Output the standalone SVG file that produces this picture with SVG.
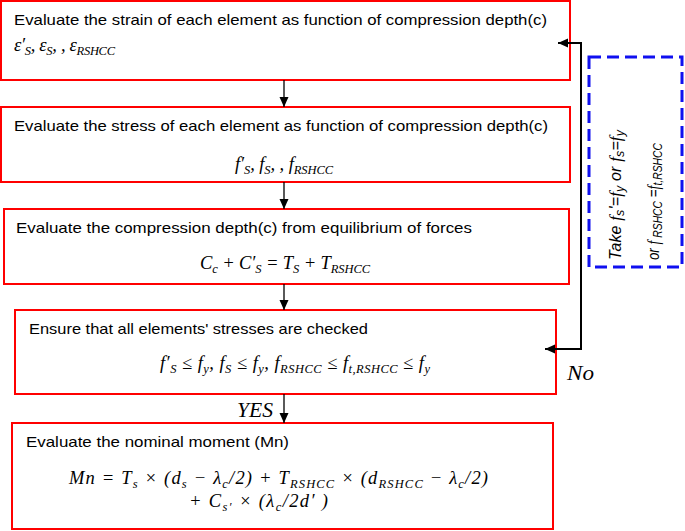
<svg xmlns="http://www.w3.org/2000/svg" width="685" height="531" viewBox="0 0 685 531">
<style>
.box{fill:#fff;stroke:#ff0000;stroke-width:2}
.t{font-family:"Liberation Sans",Arial,sans-serif;font-size:15px;fill:#000}
.m{font-family:"Liberation Serif","Times New Roman",serif;font-style:italic;font-size:18.5px;fill:#000}
.s{font-size:12.5px}
.lbl{font-family:"Liberation Serif","Times New Roman",serif;font-style:italic;font-size:20px;fill:#000}
.con{fill:none;stroke:#000;stroke-width:1.3}
.fb{fill:none;stroke:#000;stroke-width:2}
.note{fill:none;stroke:#1010f0;stroke-width:3;stroke-dasharray:12 6}
.it{font-family:"Liberation Sans",Arial,sans-serif;font-style:italic;font-size:16px;fill:#000}
.itm{font-family:"Liberation Serif","Times New Roman",serif;font-style:italic;font-size:17px}
</style>
<defs>
<marker id="ah" markerUnits="userSpaceOnUse" markerWidth="10" markerHeight="10" refX="10" refY="5" orient="auto-start-reverse">
<path d="M0,0.5 L10,5 L0,9.5 z" fill="#000"/>
</marker>
</defs>

<g id="node1">
<rect class="box" x="1" y="1" width="569" height="79"/>
<text class="t" x="14" y="25" textLength="533" lengthAdjust="spacingAndGlyphs">Evaluate the strain of each element as function of compression depth(c)</text>
<text class="m" x="14" y="51" textLength="101" lengthAdjust="spacing">ε′<tspan class="s" dy="4">S</tspan><tspan dy="-4">, ε</tspan><tspan class="s" dy="4">S</tspan><tspan dy="-4">, , ε</tspan><tspan class="s" dy="4">RSHCC</tspan></text>
</g>

<g id="node2">
<rect class="box" x="1" y="107" width="569" height="75"/>
<text class="t" x="14" y="131" textLength="534" lengthAdjust="spacingAndGlyphs">Evaluate the stress of each element as function of compression depth(c)</text>
<text class="m" x="235" y="170" textLength="98" lengthAdjust="spacing">f′<tspan class="s" dy="4">S</tspan><tspan dy="-4">, f</tspan><tspan class="s" dy="4">S</tspan><tspan dy="-4">, , f</tspan><tspan class="s" dy="4">RSHCC</tspan></text>
</g>

<g id="node3">
<rect class="box" x="4" y="209" width="565" height="75"/>
<text class="t" x="16" y="233" textLength="456" lengthAdjust="spacingAndGlyphs">Evaluate the compression depth(c) from equilibrium of forces</text>
<text class="m" x="200" y="269" textLength="170" lengthAdjust="spacing">C<tspan class="s" dy="4">c</tspan><tspan dy="-4"> + C′</tspan><tspan class="s" dy="4">S</tspan><tspan dy="-4"> = T</tspan><tspan class="s" dy="4">S</tspan><tspan dy="-4"> + T</tspan><tspan class="s" dy="4">RSHCC</tspan></text>
</g>

<g id="node4">
<rect class="box" x="15" y="310" width="541" height="84"/>
<text class="t" x="29" y="334" textLength="339" lengthAdjust="spacingAndGlyphs">Ensure that all elements' stresses are checked</text>
<text class="m" x="160" y="369" textLength="270" lengthAdjust="spacing">f′<tspan class="s" dy="4">S</tspan><tspan dy="-4"> ≤ f</tspan><tspan class="s" dy="4">y</tspan><tspan dy="-4">, f</tspan><tspan class="s" dy="4">S</tspan><tspan dy="-4"> ≤ f</tspan><tspan class="s" dy="4">y</tspan><tspan dy="-4">, f</tspan><tspan class="s" dy="4">RSHCC</tspan><tspan dy="-4"> ≤ f</tspan><tspan class="s" dy="4">t,RSHCC</tspan><tspan dy="-4"> ≤ f</tspan><tspan class="s" dy="4">y</tspan></text>
</g>

<g id="node5">
<rect class="box" x="12" y="423" width="541" height="106"/>
<text class="t" x="26" y="447" textLength="263" lengthAdjust="spacingAndGlyphs">Evaluate the nominal moment (Mn)</text>
<text class="m" x="69" y="484" textLength="419" lengthAdjust="spacing">Mn = T<tspan class="s" dy="4">s</tspan><tspan dy="-4"> × (d</tspan><tspan class="s" dy="4">s</tspan><tspan dy="-4"> − λ</tspan><tspan class="s" dy="4">c</tspan><tspan dy="-4">/2)  + T</tspan><tspan class="s" dy="4">RSHCC</tspan><tspan dy="-4">  ×  (d</tspan><tspan class="s" dy="4">RSHCC</tspan><tspan dy="-4">  − λ</tspan><tspan class="s" dy="4">c</tspan><tspan dy="-4">/2)</tspan></text>
<text class="m" x="189" y="507" textLength="139" lengthAdjust="spacing">+ C<tspan class="s" dy="4">s′</tspan><tspan dy="-4">  ×  (λ</tspan><tspan class="s" dy="4">c</tspan><tspan dy="-4">/2d′ )</tspan></text>
</g>

<g id="note">
<rect class="note" x="589" y="57" width="93" height="210"/>
<text class="it" transform="translate(621,260) rotate(-90)" textLength="130" lengthAdjust="spacing">Take <tspan class="itm">f</tspan><tspan class="s" dy="3">s</tspan><tspan dy="-3">'=</tspan><tspan class="itm">f</tspan><tspan class="s" dy="3">y</tspan><tspan dy="-3"> or </tspan><tspan class="itm">f</tspan><tspan class="s" dy="3">s</tspan><tspan dy="-3">=</tspan><tspan class="itm">f</tspan><tspan class="s" dy="3">y</tspan></text>
<text class="it" transform="translate(659,260) rotate(-90)" textLength="117" lengthAdjust="spacingAndGlyphs">or <tspan class="itm">f</tspan><tspan class="s" dy="3"> RSHCC</tspan><tspan dy="-3"> =</tspan><tspan class="itm">f</tspan><tspan class="s" dy="3">t,RSHCC</tspan></text>
</g>

<g id="connectors">
<path class="con" d="M284,80 V107" marker-end="url(#ah)"/>
<path class="con" d="M284,182 V209" marker-end="url(#ah)"/>
<path class="con" d="M284,284 V310" marker-end="url(#ah)"/>
<path class="con" d="M284,394 V423" marker-end="url(#ah)"/>
<path class="fb" d="M545,349 H581 V43 H558" marker-start="url(#ah)" marker-end="url(#ah)"/>
<text class="lbl" x="237" y="417" textLength="36" lengthAdjust="spacingAndGlyphs">YES</text>
<text class="lbl" x="567" y="380" textLength="27" lengthAdjust="spacingAndGlyphs">No</text>
</g>
</svg>
